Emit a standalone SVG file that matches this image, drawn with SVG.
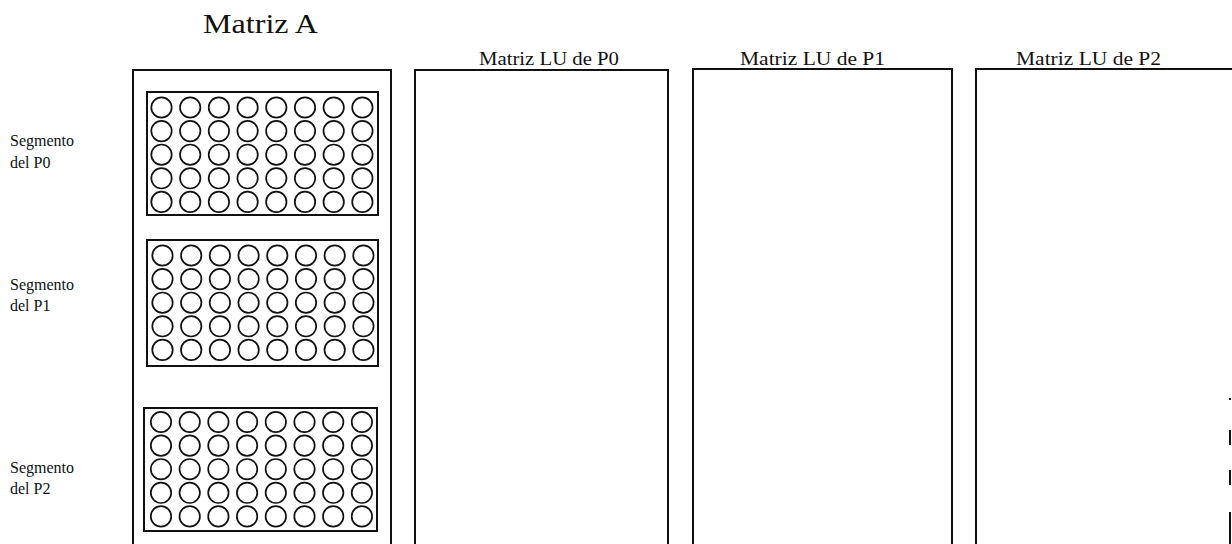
<svg xmlns="http://www.w3.org/2000/svg" xmlns:xlink="http://www.w3.org/1999/xlink" width="1232" height="544" viewBox="0 0 1232 544">
<style>
.box{fill:none;stroke:#111;stroke-width:2}
.seg{fill:none;stroke:#111;stroke-width:2}
.c{fill:none;stroke:#111;stroke-width:1.7}
.t{font-family:"Liberation Serif","Times New Roman",serif;fill:#111}
.lbl{font-size:16px}
.hdr{font-size:18px}
.ttl{font-size:28px}
</style>
<defs>
<g id="row">
<circle class="c" cx="0" cy="0" r="10.2"/>
<circle class="c" cx="28.7" cy="0" r="10.2"/>
<circle class="c" cx="57.4" cy="0" r="10.2"/>
<circle class="c" cx="86.1" cy="0" r="10.2"/>
<circle class="c" cx="114.8" cy="0" r="10.2"/>
<circle class="c" cx="143.5" cy="0" r="10.2"/>
<circle class="c" cx="172.2" cy="0" r="10.2"/>
<circle class="c" cx="200.9" cy="0" r="10.2"/>
</g>
<g id="block">
<use xlink:href="#row" y="0"/>
<use xlink:href="#row" y="23.6"/>
<use xlink:href="#row" y="47.2"/>
<use xlink:href="#row" y="70.8"/>
<use xlink:href="#row" y="94.4"/>
</g>
</defs>
<rect width="1232" height="544" fill="#fff"/>

<g id="matrizA">
<text class="t ttl" x="203" y="33" textLength="115" lengthAdjust="spacingAndGlyphs">Matriz A</text>
<path class="box" d="M133,546 V70 H391 V546"/>
</g>

<g id="segP0">
<text class="t lbl" x="10" y="146">Segmento</text>
<text class="t lbl" x="10" y="168">del P0</text>
<rect class="seg" x="147" y="92" width="231" height="123"/>
<use xlink:href="#block" x="161.5" y="107.5"/>
</g>

<g id="segP1">
<text class="t lbl" x="10" y="290">Segmento</text>
<text class="t lbl" x="10" y="311">del P1</text>
<rect class="seg" x="147" y="240" width="231" height="126"/>
<use xlink:href="#block" x="162.5" y="255.5"/>
</g>

<g id="segP2">
<text class="t lbl" x="10" y="473">Segmento</text>
<text class="t lbl" x="10" y="494">del P2</text>
<rect class="seg" x="144" y="408" width="233" height="123"/>
<use xlink:href="#block" x="161" y="422"/>
</g>

<g id="luP0">
<text class="t hdr" x="479" y="65" textLength="140" lengthAdjust="spacingAndGlyphs">Matriz LU de P0</text>
<path class="box" d="M415,546 V70 H668 V546"/>
</g>

<g id="luP1">
<text class="t hdr" x="740" y="65" textLength="145" lengthAdjust="spacingAndGlyphs">Matriz LU de P1</text>
<path class="box" d="M693,546 V69 H952 V546"/>
</g>

<g id="luP2">
<text class="t hdr" x="1016" y="65" textLength="145" lengthAdjust="spacingAndGlyphs">Matriz LU de P2</text>
<path class="box" d="M976,546 V69 H1234"/>
<path class="box" d="M1230,398 V400 M1230,430 V445 M1230,470 V485 M1230,512 V544" stroke-width="1.2"/>
</g>
</svg>
